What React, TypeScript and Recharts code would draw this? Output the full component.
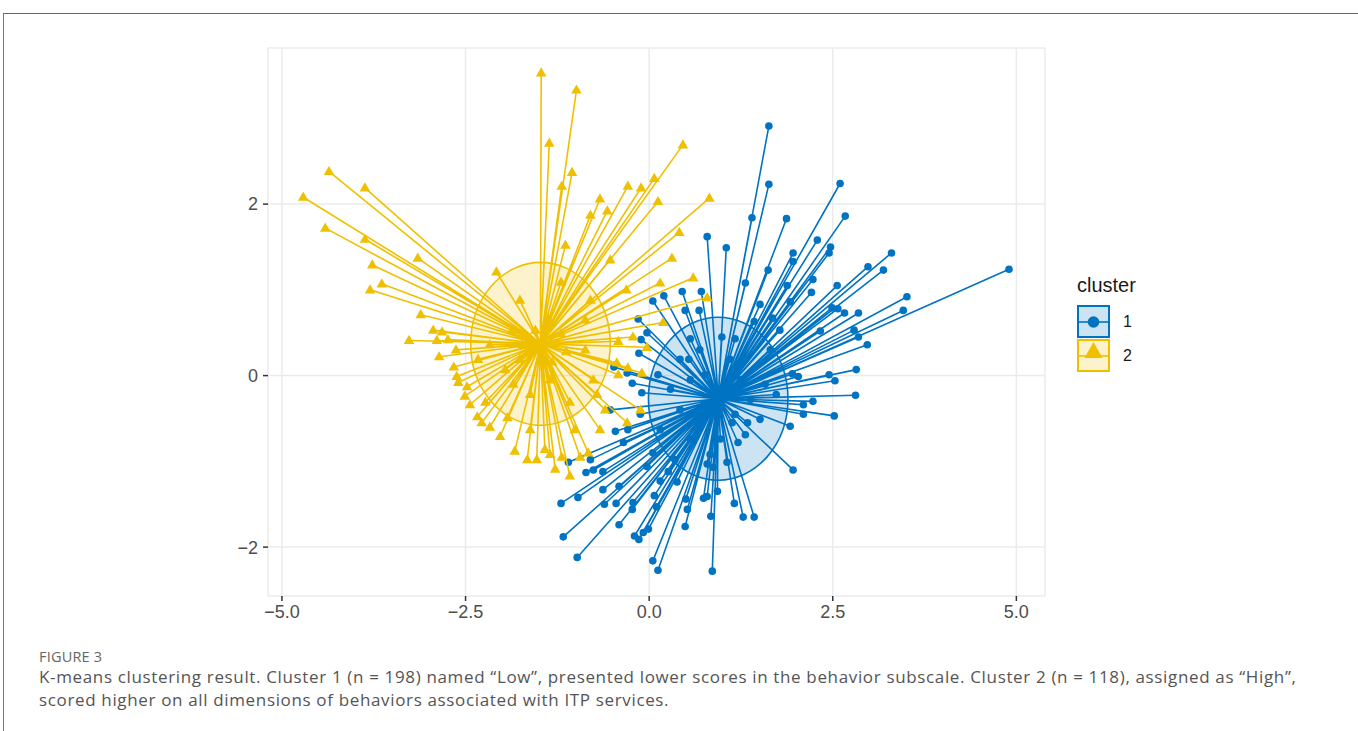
import React from "react";
import {
  CartesianGrid,
  ReferenceArea,
  Scatter,
  ScatterChart,
  XAxis,
  YAxis,
} from "recharts";

// axis setup (ggplot-style expanded limits)
const X_DOMAIN: [number, number] = [-5.19, 5.39];
const Y_DOMAIN: [number, number] = [-2.57, 3.82];
const X_TICKS = [-5, -2.5, 0, 2.5, 5];
const Y_TICKS = [-2, 0, 2];
const X_MINOR = [-3.75, -1.25, 1.25, 3.75];
const Y_MINOR = [-1, 1, 3];

// cluster centres and euclid ellipse radius
const CENTER_1: [number, number] = [0.94, -0.27];
const CENTER_2: [number, number] = [-1.48, 0.37];
const ELLIPSE_RADIUS = 0.95;

// cluster 1 ("Low")
const cluster1Points: [number, number][] = [
  [1.63, 2.91], [1.63, 2.23], [2.6, 2.24], [1.87, 1.83], [2.67, 1.86], [2.29, 1.58],
  [0.79, 1.62], [1.05, 1.49], [1.4, 1.84], [1.31, 1.08], [0.71, 0.98], [0.45, 0.98],
  [0.2, 0.93], [0.05, 0.87], [0.49, 0.76], [0.68, 0.76], [-0.15, 0.66], [-0.03, 0.5],
  [-0.11, 0.42], [-0.14, 0.26], [0.56, 0.43], [0.99, 0.45], [1.17, 0.43], [0.54, 0.19],
  [0.12, 0.01], [-0.23, -0.09], [-0.1, -0.2], [-0.48, 0.1], [-0.53, -0.4], [-0.12, -0.45],
  [-0.3, 0.03], [2.47, 1.5], [2.45, 1.43], [1.96, 1.43], [1.96, 1.33], [3.3, 1.43],
  [2.98, 1.27], [3.19, 1.23], [4.9, 1.24], [2.23, 1.12], [1.88, 1.05], [2.21, 0.97],
  [2.56, 1.05], [3.51, 0.92], [3.46, 0.76], [2.49, 0.79], [2.57, 0.78], [2.66, 0.73],
  [2.85, 0.73], [1.92, 0.86], [2.33, 0.52], [2.79, 0.53], [2.85, 0.45], [2.97, 0.36],
  [1.51, 0.83], [2.82, 0.07], [2.45, 0.01], [2.53, -0.06], [2.03, -0.01], [1.95, 0.02],
  [2.81, -0.23], [1.73, -0.22], [2.23, -0.3], [2.1, -0.34], [2.1, -0.45], [2.52, -0.47],
  [1.92, -0.59], [1.96, -1.1], [-0.46, -0.65], [-0.29, -0.63], [-1.1, -1.01], [-0.8, -0.98],
  [-0.86, -1.13], [-0.76, -1.1], [-0.63, -1.12], [-1.2, -1.49], [-0.97, -1.42], [-0.61, -1.5],
  [-0.45, -1.49], [-0.41, -1.29], [-0.35, -0.78], [-0.22, -1.48], [-0.23, -1.56], [-0.41, -1.74],
  [-1.17, -1.88], [-0.98, -2.12], [-0.2, -1.87], [-0.14, -1.91], [-0.08, -1.83], [-0.01, -1.79],
  [0.05, -2.16], [0.12, -2.27], [0.1, -1.53], [0.07, -1.4], [0.15, -1.23], [0.26, -1.12],
  [0.38, -1.24], [0.52, -1.56], [0.49, -1.76], [0.5, -1.44], [0.74, -1.43], [0.79, -1.41],
  [0.84, -1.64], [0.93, -1.35], [0.86, -2.28], [1.16, -1.49], [1.28, -1.65], [1.43, -1.65],
  [1.06, -1.01], [1.21, -0.78], [1.31, -0.69], [1.34, -0.55], [1.13, -0.55], [0.87, -1.07],
  [0.79, -1.03], [-0.03, -1.06], [0.05, -0.9], [0.35, -0.98], [-0.63, -1.33],
  [0.56, -0.05], [1.24, -0.05], [0.69, -0.51], [1.1, 0.19], [0.42, -0.4], [1.38, -0.28],
  [0.97, -0.74], [0.69, 0.3], [1.51, -0.51], [0.29, -0.16], [1.31, 0.19], [0.56, -0.74],
  [1.04, -0.1], [0.76, 0.01], [1.17, -0.45], [1.58, -0.1], [0.42, 0.19], [0.83, -0.92],
  [0.15, -0.63], [1.65, 0.3], [1.43, 0.63], [1.68, 0.67], [1.78, 0.53], [1.62, 1.23],
];

// cluster 2 ("High")
const cluster2Points: [number, number][] = [
  [-1.47, 3.53], [-0.99, 3.33], [-1.36, 2.71], [-1.05, 2.37], [-1.19, 2.21], [0.46, 2.69],
  [0.07, 2.3], [-0.29, 2.21], [-0.11, 2.19], [-0.67, 2.06], [-0.57, 1.92], [0.12, 2.03],
  [0.82, 2.07], [0.41, 1.67], [-4.36, 2.38], [-4.71, 2.08], [-3.87, 2.19], [-4.41, 1.72],
  [-3.87, 1.59], [-3.15, 1.37], [-3.77, 1.29], [-3.64, 1.07], [-3.8, 1.0], [-3.11, 0.71],
  [-2.94, 0.53], [-2.82, 0.51], [-3.27, 0.41], [-2.89, 0.41], [-2.74, 0.42], [-2.63, 0.3],
  [-2.86, 0.22], [-2.66, 0.1], [-2.62, -0.01], [-2.48, -0.13], [-2.51, -0.24], [-2.34, -0.48],
  [-2.08, 1.21], [-1.2, 1.09], [0.31, 1.37], [0.6, 1.14], [0.15, 1.08], [-0.31, 1.0],
  [0.79, 0.91], [0.19, 0.62], [-0.22, 0.45], [-0.42, 0.4], [-0.03, 0.33], [-0.87, 0.3],
  [-0.44, 0.15], [-0.29, 0.09], [-0.42, 0.01], [-0.1, 0.03], [-0.76, -0.05], [-1.85, -0.1],
  [-0.71, -0.22], [-0.6, -0.4], [-1.08, -0.31], [-2.23, -0.31], [-2.28, -0.55], [-1.83, -0.88],
  [-1.66, -0.98], [-1.53, -0.98], [-0.83, -0.9], [-1.08, -1.17], [-1.35, -0.92], [-0.94, -0.95],
  [-1.19, -0.95], [-1.93, -0.49], [-0.3, -0.55], [-2.6, -0.08], [-2.44, -0.34], [-2.17, -0.6],
  [-2.03, -0.71], [-1.42, -0.86], [-1.28, -1.09], [-2.17, 0.36], [-2.33, 0.19], [-1.76, 0.88],
  [-0.8, 0.88], [-0.53, 1.35], [-0.12, -0.4], [-0.67, -0.63], [-1.62, -0.63], [-1.01, -0.63],
  [-1.96, 0.07], [-0.87, 0.65], [-1.2, 0.49], [-1.76, 0.19], [-1.35, -0.05], [-1.62, -0.22],
  [-1.14, 1.52], [-0.8, 1.87], [-1.55, 0.53], [-1.32, 0.16], [-1.73, 0.36], [-1.13, 0.28],
  [-1.38, 0.67], [-1.87, 0.53],
];

const BLUE = "#0073C2";
const GOLD = "#EFC000";
const FONT = "'Liberation Sans', Arial, sans-serif";
const CAPTION_FONT = "'Open Sans', Lato, sans-serif";

// centre -> point -> centre -> point ... so the scatter line draws a star
function starData(center: [number, number], points: [number, number][]) {
  return points.flatMap(([x, y]) => [
    { x: center[0], y: center[1], hub: true },
    { x, y, hub: false },
  ]);
}

const star1 = starData(CENTER_1, cluster1Points);
const star2 = starData(CENTER_2, cluster2Points);

const minus = (s: string) => s.replace("-", "\u2212");

function isHub(p: any) {
  return p?.hub ?? p?.payload?.hub;
}

function DotShape(p: any) {
  if (isHub(p)) return <g />;
  return <circle cx={p.cx} cy={p.cy} r={3.8} fill={BLUE} />;
}

function TriangleShape(p: any) {
  if (isHub(p)) return <g />;
  const { cx, cy } = p;
  return (
    <polygon
      points={`${cx},${cy - 5.6} ${cx - 5.3},${cy + 3.6} ${cx + 5.3},${cy + 3.6}`}
      fill={GOLD}
    />
  );
}

function ellipseShape(color: string) {
  return (p: any) => (
    <ellipse
      cx={p.x + p.width / 2}
      cy={p.y + p.height / 2}
      rx={Math.abs(p.width) / 2}
      ry={Math.abs(p.height) / 2}
      fill={color}
      fillOpacity={0.2}
      stroke={color}
      strokeWidth={1.6}
    />
  );
}

function Legend() {
  return (
    <svg
      width={110}
      height={120}
      style={{ position: "absolute", left: 1070, top: 265 }}
    >
      <text x={7} y={27} fontFamily={FONT} fontSize={20} fill="#1a1a1a">
        cluster
      </text>
      <rect x={8} y={41} width={31} height={31} fill="#cce3f3" stroke={BLUE} strokeWidth={2} />
      <line x1={9} x2={38} y1={57} y2={57} stroke={BLUE} strokeWidth={1.6} />
      <circle cx={23.5} cy={57} r={5.8} fill={BLUE} />
      <rect x={8} y={75} width={31} height={31} fill="#fcf2cc" stroke={GOLD} strokeWidth={2} />
      <line x1={9} x2={38} y1={91} y2={91} stroke={GOLD} strokeWidth={1.6} />
      <polygon points="23.5,77 14.5,93 32.5,93" fill={GOLD} />
      <text x={53} y={62} fontFamily={FONT} fontSize={16} fill="#1a1a1a">
        1
      </text>
      <text x={53} y={96} fontFamily={FONT} fontSize={16} fill="#1a1a1a">
        2
      </text>
    </svg>
  );
}

export default function App() {
  return (
    <div
      style={{
        position: "relative",
        width: 1358,
        height: 731,
        background: "#fff",
        overflow: "hidden",
      }}
    >
      <style>{"body{margin:0}"}</style>
      {/* figure frame */}
      <div
        style={{
          position: "absolute",
          left: 3,
          top: 13,
          right: 0,
          bottom: -2,
          borderTop: "1.5px solid #666",
          borderLeft: "1.5px solid #777",
        }}
      />

      <div style={{ position: "absolute", left: 0, top: 0 }}>
        <ScatterChart
          width={1358}
          height={640}
          margin={{ top: 48, right: 313, bottom: 14, left: 0 }}
        >
          <CartesianGrid stroke="#ebebeb" strokeWidth={1.5} />
          <CartesianGrid
            stroke="#f1f1f1"
            strokeWidth={1}
            horizontalCoordinatesGenerator={({ yAxis }: any) =>
              typeof yAxis?.scale === "function" ? Y_MINOR.map((v) => yAxis.scale(v)) : []
            }
            verticalCoordinatesGenerator={({ xAxis }: any) =>
              typeof xAxis?.scale === "function" ? X_MINOR.map((v) => xAxis.scale(v)) : []
            }
          />
          <XAxis
            type="number"
            dataKey="x"
            domain={X_DOMAIN}
            ticks={X_TICKS}
            allowDataOverflow
            height={30}
            axisLine={false}
            tickLine={{ stroke: "#333", strokeWidth: 1.5 }}
            tickSize={5}
            tickMargin={4}
            tick={{ fill: "#4d4d4d", fontSize: 18, fontFamily: FONT }}
            tickFormatter={(v: number) => minus(v.toFixed(1))}
          />
          <YAxis
            type="number"
            dataKey="y"
            domain={Y_DOMAIN}
            ticks={Y_TICKS}
            allowDataOverflow
            width={268}
            axisLine={false}
            tickLine={{ stroke: "#333", strokeWidth: 1.5 }}
            tickSize={5}
            tickMargin={5}
            tick={{ fill: "#4d4d4d", fontSize: 18, fontFamily: FONT }}
            tickFormatter={(v: number) => minus(String(v))}
          />
          <ReferenceArea
            x1={CENTER_2[0] - ELLIPSE_RADIUS}
            x2={CENTER_2[0] + ELLIPSE_RADIUS}
            y1={CENTER_2[1] - ELLIPSE_RADIUS}
            y2={CENTER_2[1] + ELLIPSE_RADIUS}
            shape={ellipseShape(GOLD)}
          />
          <ReferenceArea
            x1={CENTER_1[0] - ELLIPSE_RADIUS}
            x2={CENTER_1[0] + ELLIPSE_RADIUS}
            y1={CENTER_1[1] - ELLIPSE_RADIUS}
            y2={CENTER_1[1] + ELLIPSE_RADIUS}
            shape={ellipseShape(BLUE)}
          />
          <Scatter
            data={star1}
            fill={BLUE}
            line={{ stroke: BLUE, strokeWidth: 1.6 }}
            lineType="joint"
            shape={DotShape}
            isAnimationActive={false}
          />
          <Scatter
            data={star2}
            fill={GOLD}
            line={{ stroke: GOLD, strokeWidth: 1.6 }}
            lineType="joint"
            shape={TriangleShape}
            isAnimationActive={false}
          />
        </ScatterChart>
      </div>

      <Legend />

      <div
        style={{
          position: "absolute",
          left: 39,
          top: 647,
          fontFamily: CAPTION_FONT,
          color: "#666",
          fontSize: 14.5,
          letterSpacing: 0.2,
        }}
      >
        FIGURE 3
      </div>
      <div
        style={{
          position: "absolute",
          left: 39,
          top: 665,
          fontFamily: CAPTION_FONT,
          color: "#555",
          fontSize: 17,
          letterSpacing: 0.65,
          lineHeight: "23px",
          whiteSpace: "nowrap",
        }}
      >
        <div>
          K-means clustering result. Cluster 1 (n = 198) named “Low”, presented lower scores in the
          behavior subscale. Cluster 2 (n = 118), assigned as “High”,
        </div>
        <div>scored higher on all dimensions of behaviors associated with ITP services.</div>
      </div>
    </div>
  );
}
